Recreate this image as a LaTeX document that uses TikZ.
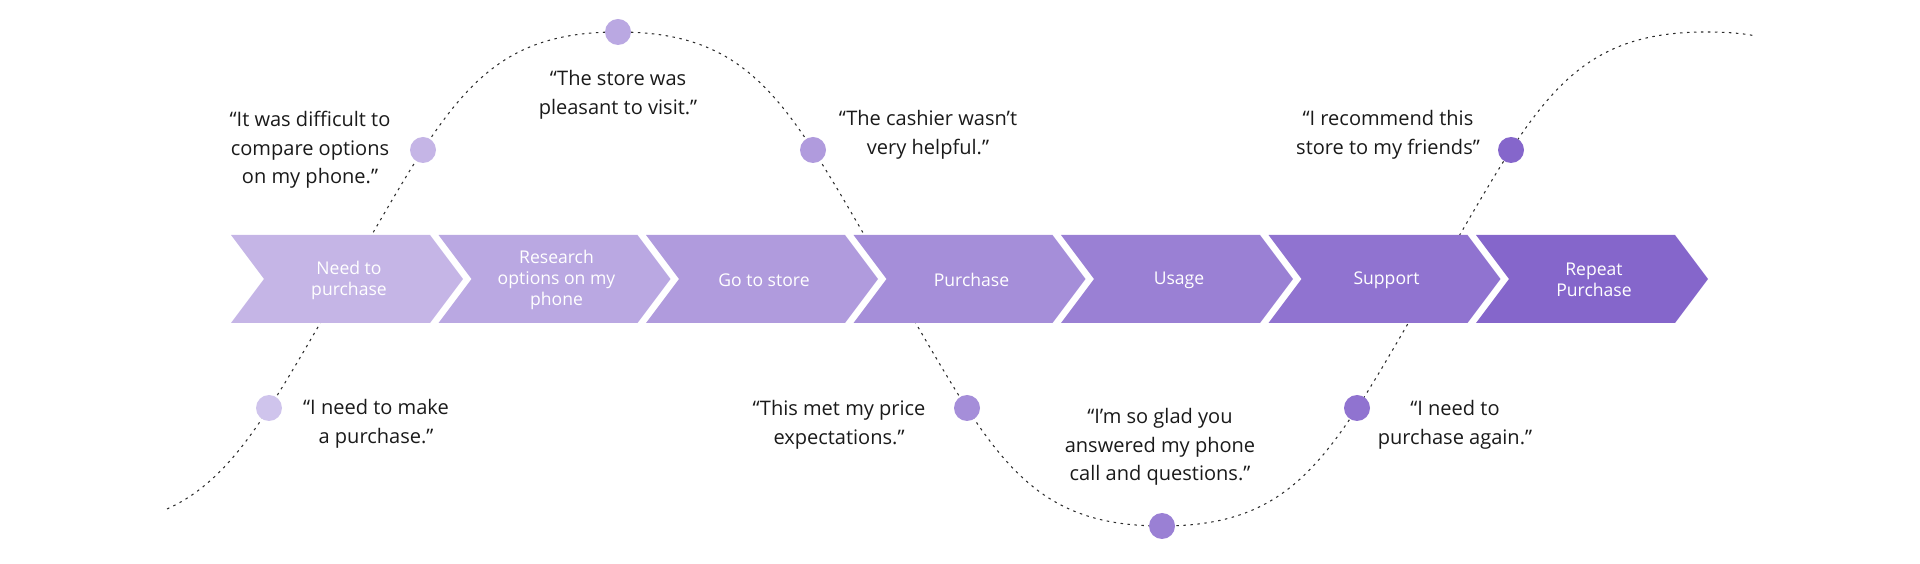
\documentclass[tikz,border=0pt]{standalone}
\usepackage{fontspec}
\setmainfont{Open Sans}

\definecolor{stage1}{RGB}{197,181,230}
\definecolor{stage2}{RGB}{186,168,226}
\definecolor{stage3}{RGB}{176,155,221}
\definecolor{stage4}{RGB}{165,142,217}
\definecolor{stage5}{RGB}{154,128,212}
\definecolor{stage6}{RGB}{144,115,208}
\definecolor{stage7}{RGB}{133,102,203}
\definecolor{dotlight}{RGB}{207,196,236}
\definecolor{quoteink}{RGB}{26,26,26}
\definecolor{waveink}{RGB}{45,45,45}

\begin{document}
\begin{tikzpicture}[
  x=0.02cm,
  y=0.02cm,
  every node/.style={font=\fontsize{11.4}{16.2}\selectfont},
  stage label/.style={
    align=center,
    text=white,
    font=\fontsize{10}{11.9}\selectfont
  },
  quote/.style={
    align=center,
    text=quoteink
  },
  dot/.style={
    circle,
    inner sep=0pt,
    minimum size=0.52cm,
    fill=#1
  },
  wave/.style={
    draw=waveink,
    line width=0.6pt,
    dash pattern=on 0.05cm off 0.09cm
  }
]
\useasboundingbox (0,0) rectangle (1920,564);

\coordinate (w0) at (167,55);
\coordinate (w1) at (346,285);
\coordinate (w2) at (618,532);
\coordinate (w3) at (890,285);
\coordinate (w4) at (1162,38);
\coordinate (w5) at (1434,285);
\coordinate (w6) at (1706,532);
\coordinate (w7) at (1756,528);

\draw[wave] (w0) .. controls (236,86) and (273,161) .. (w1)
  .. controls +(100,170) and +(-140,0) .. (w2)
  .. controls +(140,0) and +(-100,170) .. (w3)
  .. controls +(100,-170) and +(-140,0) .. (w4)
  .. controls +(140,0) and +(-100,-170) .. (w5)
  .. controls +(100,170) and +(-140,0) .. (w6)
  .. controls (1724,532) and (1741,531) .. (w7);

\foreach \lbl [count=\i from 1] in {{Need to\\purchase},{Research\\options on my\\phone},{Go to store},Purchase,Usage,Support,{Repeat\\Purchase}} {
  \pgfmathsetmacro{\xa}{231+207.5*(\i-1)}
  \fill[stage\i] (\xa,329) -- ++(199,0) -- ++(33,-44) -- ++(-33,-44) -- ++(-199,0) -- ++(33,44) -- cycle;
  \node[stage label] (stage\i) at (\xa+118,284) {\lbl};
}

\node[dot=dotlight] (dotA) at (269,156) {};
\node[dot=stage1] (dotB) at (423,414) {};
\node[dot=stage2] (dotC) at (w2) {};
\node[dot=stage3] (dotD) at (813,414) {};
\node[dot=stage4] (dotE) at (967,156) {};
\node[dot=stage5] (dotF) at (w4) {};
\node[dot=stage6] (dotG) at (1357,156) {};
\node[dot=stage7] (dotH) at (1511,414) {};

\node[quote] (quoteA) at (376,140) {“I need to make\\a purchase.”};
\node[quote] (quoteB) at (310,414) {“It was difficult to\\compare options\\on my phone.”};
\node[quote] (quoteC) at (618,469) {“The store was\\pleasant to visit.”};
\node[quote] (quoteD) at (928,429) {“The cashier wasn’t\\very helpful.”};
\node[quote] (quoteE) at (839,139) {“This met my price\\expectations.”};
\node[quote] (quoteF) at (1160,117) {“I’m so glad you\\answered my phone\\call and questions.”};
\node[quote] (quoteG) at (1455,139) {“I need to\\purchase again.”};
\node[quote] (quoteH) at (1388,429) {“I recommend this\\store to my friends”};
\end{tikzpicture}
\end{document}
